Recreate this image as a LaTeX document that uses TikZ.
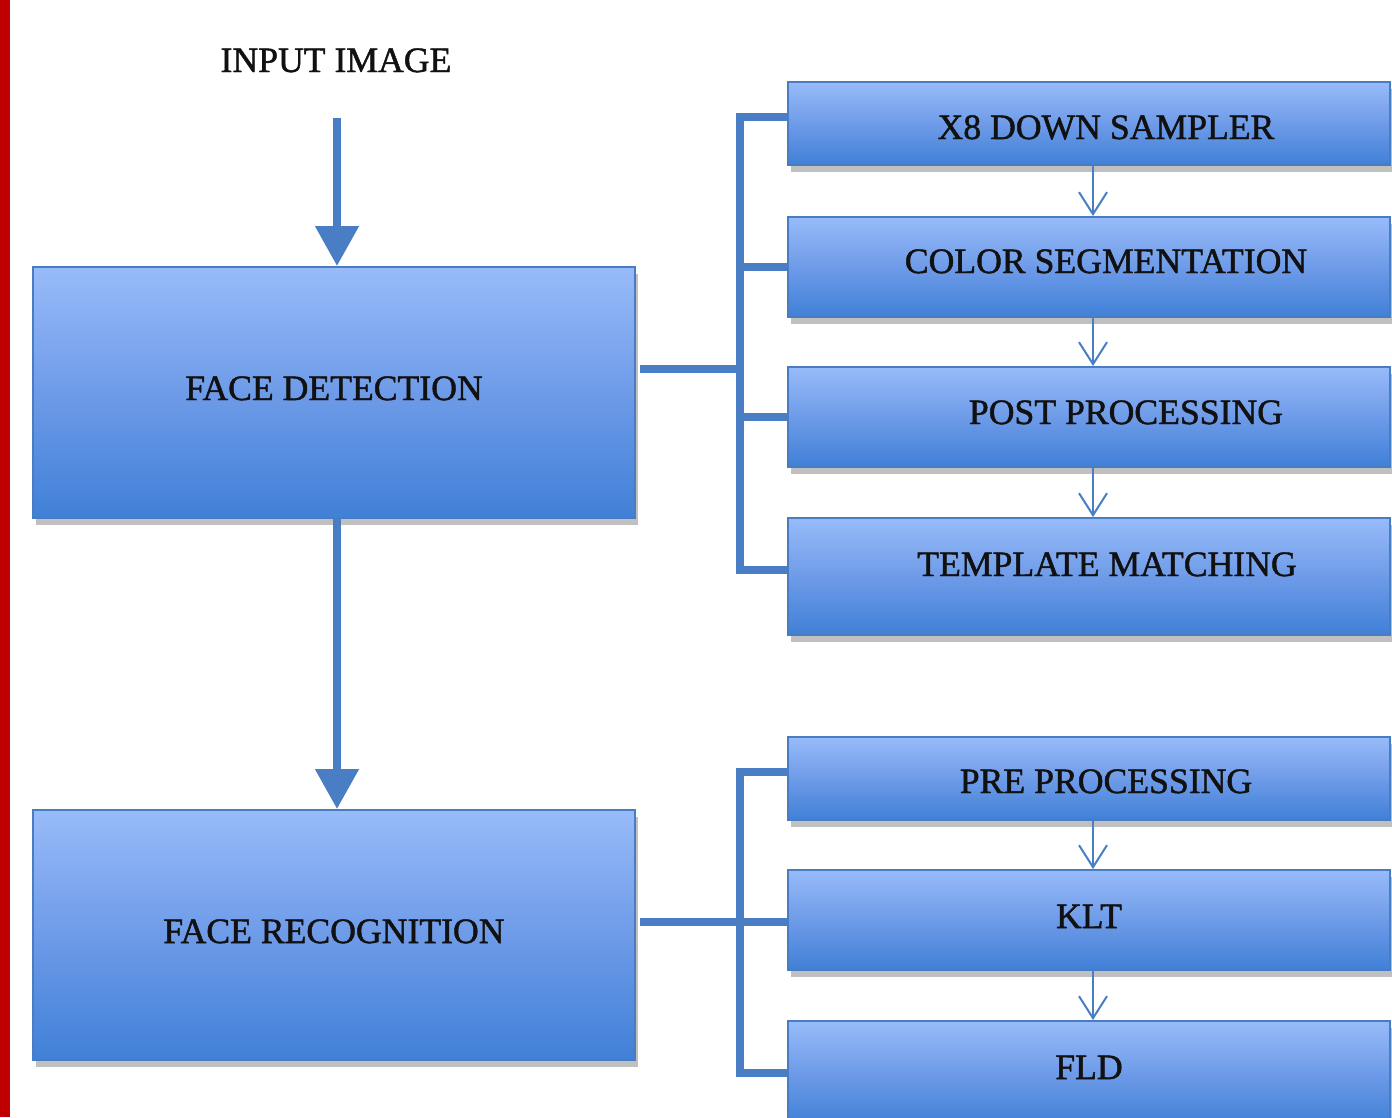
\documentclass[tikz,border=0pt]{standalone}
\usepackage{fontspec}
\setmainfont{Liberation Serif}
\newfontfamily\diagfont[FakeBold=1.3]{Liberation Serif}
\usetikzlibrary{arrows.meta,shadows}
\definecolor{boxtop}{HTML}{98BBF9}
\definecolor{boxmid}{HTML}{6E9BE8}
\definecolor{boxbot}{HTML}{4080D7}
\definecolor{edgecol}{HTML}{4A7CC2}
\definecolor{conncol}{HTML}{4A7EC4}
\definecolor{redbar}{HTML}{C00000}
\definecolor{txt}{HTML}{111111}
\tikzset{
 box/.style={draw=edgecol, line width=0.04cm, top color=boxtop, bottom color=boxbot, middle color=boxmid,
   inner sep=0pt, text height=0.48cm, minimum width=12.04cm,
   font=\diagfont\fontsize{20.3}{24}\selectfont, text=txt,
   drop shadow={shadow xshift=0.06cm, shadow yshift=-0.14cm, opacity=0.35, fill=black!70}},
 bigarrow/.style={draw=conncol, line width=0.16cm, -{Triangle[length=0.8cm,width=0.84cm]}},
 conn/.style={draw=conncol, line width=0.16cm, line join=miter},
 smallarrow/.style={draw=conncol, line width=0.04cm, -{Straight Barb[length=0.44cm,width=0.56cm]}},
 lbl/.style={inner sep=0pt, text height=0.48cm, text depth=0pt, font=\diagfont\fontsize{20.3}{24}\selectfont, text=txt},
}
\begin{document}
\begin{tikzpicture}[x=0.02cm,y=-0.02cm]
\useasboundingbox (0,0) rectangle (1392,1117);
\fill[white] (0,0) rectangle (1392,1117);
\clip (0,0) rectangle (1392,1117);
\fill[redbar] (0,0) rectangle (10,1117);

% left column
\node[lbl] (input) at (336,60) {INPUT IMAGE};
\node[box, minimum height=5.02cm, text depth=0.18cm] (fd) at (334,392.5) {FACE DETECTION};
\node[box, minimum height=5.0cm, text depth=0.16cm] (fr) at (334,935) {FACE RECOGNITION};

% right column, top group
\node[box, minimum height=1.66cm, text height=0.62cm, text depth=0pt] (ds) at (1089,123.5) {\hspace*{0.68cm}X8 DOWN SAMPLER};
\node[box, minimum height=2.0cm, text depth=0.24cm] (cs) at (1089,267) {\hspace*{0.68cm}COLOR SEGMENTATION};
\node[box, minimum height=2.0cm, text depth=0.2cm] (pp) at (1089,417) {\hspace*{1.48cm}POST PROCESSING};
\node[box, minimum height=2.34cm, text depth=0.5cm] (tm) at (1089,576.5) {\hspace*{0.72cm}TEMPLATE MATCHING};

% right column, bottom group
\node[box, minimum height=1.66cm, text height=0.58cm, text depth=0pt] (pre) at (1089,778.5) {\hspace*{0.68cm}PRE PROCESSING};
\node[box, minimum height=2.0cm, text depth=0.16cm] (klt) at (1089,920) {KLT};
\node[box, minimum height=2.08cm, text depth=0.24cm] (fld) at (1089,1073) {FLD};

% main arrows
\draw[bigarrow, shorten <=0.92cm] ([xshift=0.02cm]input.south) -- ([xshift=0.02cm]input.south |- fd.north);
\draw[bigarrow] ([xshift=0.06cm]fd.south) -- ([xshift=0.06cm]fr.north);

% top bracket
\coordinate (tj) at (740,369);
\draw[conn] (ds.west |- 0,117) -- (740,117) -- (740,570) -- (tm.west |- 0,570);
\draw[conn] (cs.west) -- (cs.west -| tj);
\draw[conn] (pp.west) -- (pp.west -| tj);
\draw[conn] ([xshift=0.08cm]fd.east |- tj) -- (tj);

% bottom bracket
\coordinate (bj) at (740,922);
\draw[conn] (pre.west |- 0,772) -- (740,772) -- (740,1073) -- (fld.west |- 0,1073);
\draw[conn] (klt.west |- bj) -- (bj) -- ([xshift=0.08cm]fr.east |- bj);

% small arrows
\draw[smallarrow] ([xshift=0.08cm]ds.south) -- ([xshift=0.08cm]cs.north);
\draw[smallarrow] ([xshift=0.08cm]cs.south) -- ([xshift=0.08cm]pp.north);
\draw[smallarrow] ([xshift=0.08cm]pp.south) -- ([xshift=0.08cm]tm.north);
\draw[smallarrow] ([xshift=0.08cm]pre.south) -- ([xshift=0.08cm]klt.north);
\draw[smallarrow] ([xshift=0.08cm]klt.south) -- ([xshift=0.08cm]fld.north);
\end{tikzpicture}
\end{document}
